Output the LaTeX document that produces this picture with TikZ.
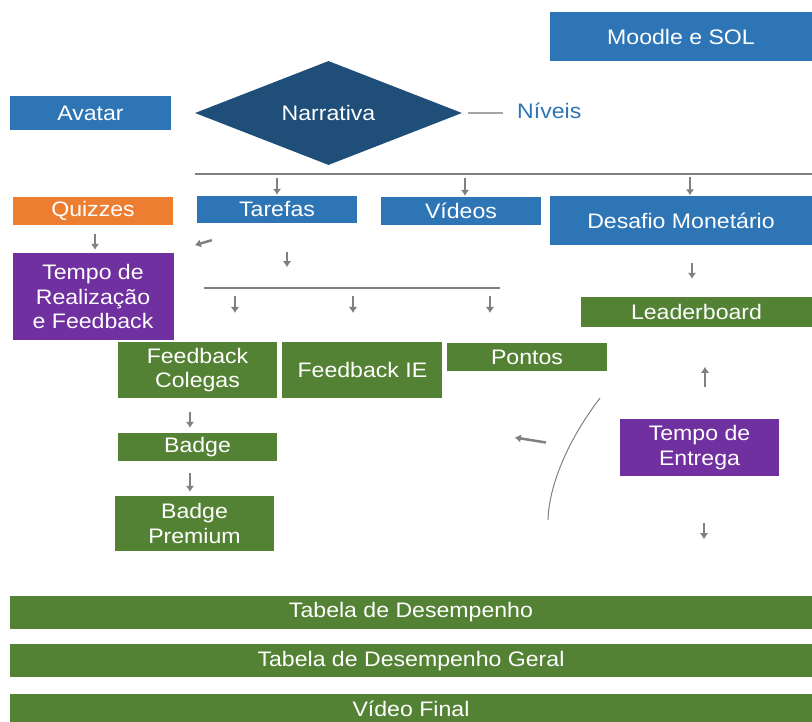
\documentclass[tikz,border=0pt]{standalone}
\usepackage{fontspec}
\setmainfont{Liberation Sans}[FakeStretch=1.1]
\usetikzlibrary{arrows.meta}
\usetikzlibrary{calc}
\usetikzlibrary{positioning}
\usetikzlibrary{shapes.geometric}
\definecolor{Office-Blue}{RGB}{46,117,182}
\definecolor{Office-DarkBlue}{RGB}{31,78,121}
\definecolor{Office-Orange}{RGB}{237,125,49}
\definecolor{Office-Purple}{RGB}{112,48,160}
\definecolor{Office-Green}{RGB}{84,130,53}
\definecolor{Office-Gray}{RGB}{128,128,128}
\definecolor{Office-LightGray}{RGB}{165,165,165}
\begin{document}
\begin{tikzpicture}[x=1pt,y=-1pt]% y runs downwards
    \tikzset{ box/.style ={rectangle, inner sep=0pt, text=white, align=center, font=\fontsize{21}{24.5}\selectfont} }
    \tikzset{ blu/.style ={box, fill=Office-Blue} }
    \tikzset{ org/.style ={box, fill=Office-Orange} }
    \tikzset{ prp/.style ={box, fill=Office-Purple} }
    \tikzset{ grn/.style ={box, fill=Office-Green} }
    \tikzset{ bar/.style ={grn, minimum width=802pt, minimum height=33pt} }
    \tikzset{ arr/.style ={draw=Office-Gray, line width=2.5pt, -{Latex[length=6pt,width=8.5pt]}} }
    \tikzset{ bus/.style ={draw=Office-Gray, line width=2.5pt} }
    \useasboundingbox (0,0) rectangle (812,722);

    \node[blu, minimum width=262pt, minimum height=49pt] (moodle) at (681,36.5) {Moodle e SOL};
    \node[blu, minimum width=161pt, minimum height=34pt] (avatar) at (90.5,113) {Avatar};
    \node[diamond, aspect=2.6, inner sep=0pt, fill=Office-DarkBlue, text=white, font=\fontsize{21}{24.5}\selectfont,
          minimum width=267pt, minimum height=104pt] (narr) at (328.5,113) {Narrativa};
    \node[inner sep=0pt, anchor=west, text=Office-Blue, font=\fontsize{21}{24.5}\selectfont] (niv) at (517,111) {Níveis};

    \node[org, minimum width=160pt, minimum height=28pt] (quiz)    at (93,211)    {Quizzes};
    \node[blu, minimum width=160pt, minimum height=27pt] (tarefa)  at (277,209.5) {Tarefas};
    \node[blu, minimum width=160pt, minimum height=28pt] (video)   at (461,211)   {Vídeos};
    \node[blu, minimum width=262pt, minimum height=49pt] (desafio) at (681,221)   {Desafio Monetário};

    \node[prp, minimum width=161pt, minimum height=87pt] (tempoR)  at (93,296.5)  {Tempo de\\Realização\\e Feedback};
    \node[grn, minimum width=231pt, minimum height=30pt] (leader)  at (696.5,312) {Leaderboard};

    \node[grn, minimum width=159pt, minimum height=56pt] (fbcol)   at (197.5,370)  {Feedback\\Colegas};
    \node[grn, minimum width=160pt, minimum height=55pt, right=5pt of fbcol] (fbie) {Feedback IE};
    \node[grn, minimum width=160pt, minimum height=28pt] (pontos)  at (527,357)    {Pontos};
    \node[prp, minimum width=159pt, minimum height=57pt] (tempoE)  at (699.5,447.5) {Tempo de\\Entrega};
    \node[grn, minimum width=159pt, minimum height=28pt] (badge)   at (197.5,447)  {Badge};
    \node[grn, minimum width=159pt, minimum height=55pt] (badgeP)  at (194.5,523.5) {Badge\\Premium};

    \node[bar] (tab1) at (411,612.5) {Tabela de Desempenho};
    \node[bar, below=15pt of tab1] (tab2) {Tabela de Desempenho Geral};
    \node[bar, below=16pt of tab2, minimum height=30pt] (vfinal) {Vídeo Final};

    % buses
    \coordinate (bus1w) at (195,174);
    \coordinate (bus1e) at (812,174);
    \coordinate (bus2w) at (204,288);
    \coordinate (bus2e) at (500,288);
    \draw[bus] (bus1w) -- (bus1e);
    \draw[bus] (bus2w) -- (bus2e);
    \draw[draw=Office-LightGray, line width=1.5pt] ($(narr.east)+(6,0)$) -- ($(niv.west |- narr.east)+(-14,0)$);

    % arrows
    \draw[arr] ($(tarefa.north)+(0,-18)$)  -- ($(tarefa.north)+(0,-1)$);
    \draw[arr] ($(video.north)+(4,-19)$)   -- ($(video.north)+(4,-1)$);
    \draw[arr] ($(desafio.north)+(9,-19)$) -- ($(desafio.north)+(9,-1)$);
    \draw[arr] ($(quiz.south)+(2,9)$)      -- ($(tempoR.north)+(2,-3)$);
    \draw[arr] ($(tarefa.south west)+(15,17)$) -- ($(tarefa.south west)+(-2,22)$);
    \draw[arr] ($(tarefa.south)+(10,29)$)  -- ($(tarefa.south)+(10,44)$);
    \foreach \dx in {31,149,286}
        \draw[arr] ($(bus2w)+(\dx,8)$) -- ++(0,17);
    \draw[arr] ($(desafio.south)+(11,17)$) -- ($(leader.north)+(-4.5,-18)$);
    \draw[arr] ($(tempoE.north)+(5.5,-32)$) -- ($(tempoE.north)+(5.5,-52)$);
    \draw[arr] ($(fbcol.south)+(-7.5,14)$) -- ($(badge.north)+(-7.5,-5)$);
    \draw[arr] ($(badge.south)+(-7.5,12)$) -- ($(badgeP.north)+(-4.5,-4)$);
    \draw[arr] ($(tempoE.west)+(-74,-5)$)  -- ($(tempoE.west)+(-105,-10)$);
    \draw[arr] ($(tempoE.south)+(4.5,47)$) -- ++(0,16);

    % arc
    \coordinate (arcA) at (600,398);
    \coordinate (arcB) at (548,520);
    \draw[draw=Office-Gray, line width=1pt] (arcA) .. controls (568,440) and (549,485) .. (arcB);
\end{tikzpicture}
\end{document}
